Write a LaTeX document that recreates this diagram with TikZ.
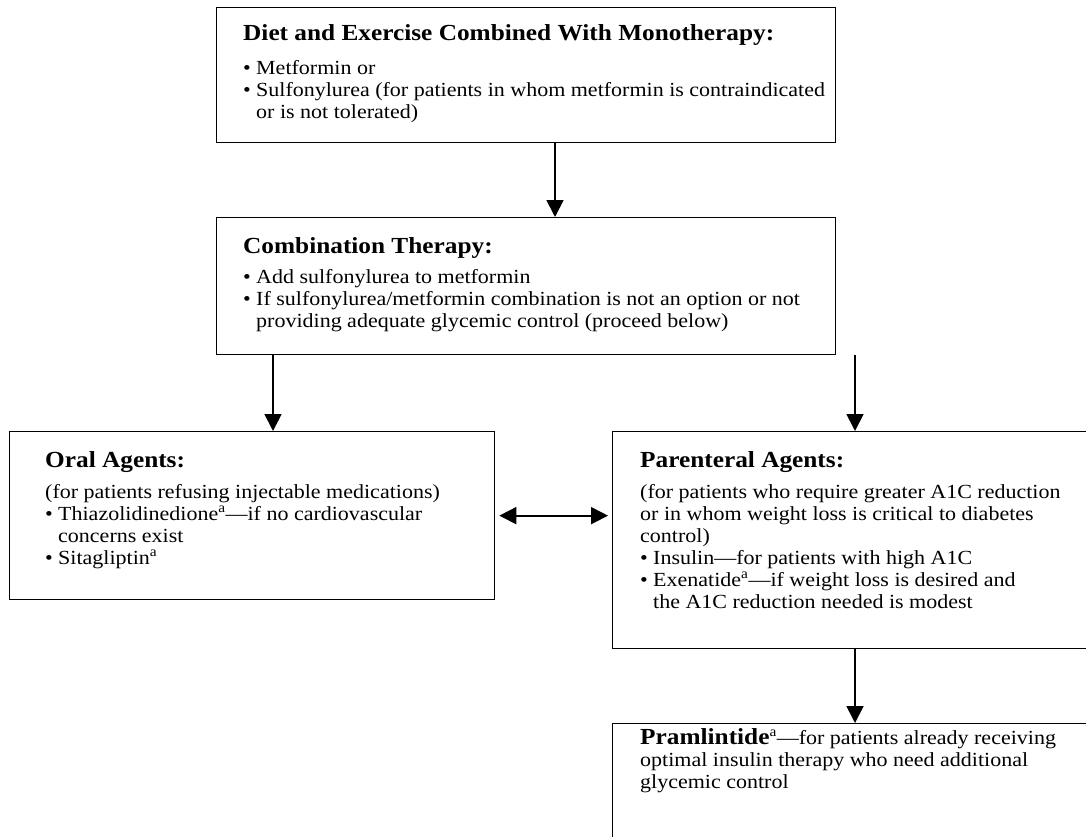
\documentclass[tikz,border=0pt]{standalone}
\usepackage{fontspec}
\setmainfont{Liberation Serif}[FakeStretch=1.1]
\usetikzlibrary{arrows.meta}
\newcommand{\bul}{\makebox[13pt][l]{\textbullet}}
\newcommand{\hng}{\hspace*{13pt}}
\newcommand{\supa}{\textsuperscript{a}}

\begin{document}
\begin{tikzpicture}[x=1pt,y=-1pt,
    box/.style={draw,line width=1.3pt,anchor=north west,inner sep=0pt},
    hd/.style={anchor=base west,inner sep=0pt,font=\fontsize{23}{22}\selectfont\bfseries},
    tx/.style={anchor=north west,inner sep=0pt,align=left,font=\fontsize{20}{22}\selectfont},
    arr/.style={line width=1.8pt,-{Triangle[length=17pt,width=17pt]}},
    arrb/.style={line width=1.8pt,{Triangle[length=17pt,width=17pt]}-{Triangle[length=17pt,width=17pt]},shorten <=4pt,shorten >=4pt}
]
    \useasboundingbox (0,0) rectangle (1086,837);
    \clip (0,0) rectangle (1086,837);
    % Boxes
    \node[box,minimum width=619pt,minimum height=135pt] (diet)  at (216,7)   {};
    \node[box,minimum width=619pt,minimum height=137pt] (combo) at (216,217) {};
    \node[box,minimum width=485pt,minimum height=168pt] (oral)  at (9,431)   {};
    \node[box,minimum width=520pt,minimum height=217pt] (paren) at (612,431) {};
    \node[box,minimum width=520pt,minimum height=200pt] (pram)  at (612,723) {};
    % Texts
    \node[hd] (dietHd) at (243,41) {Diet and Exercise Combined With Monotherapy:};
    \node[tx] (dietTx) at (243,60) {\bul Metformin or\\
        \bul Sulfonylurea (for patients in whom metformin is contraindicated\\
        \hng or is not tolerated)};
    \node[hd] (comboHd) at (243,253) {Combination Therapy:};
    \node[tx] (comboTx) at (243,269) {\bul Add sulfonylurea to metformin\\
        \bul If sulfonylurea/metformin combination is not an option or not\\
        \hng providing adequate glycemic control (proceed below)};
    \node[hd] (oralHd) at (45,467) {Oral Agents:};
    \node[tx] (oralTx) at (45,484) {(for patients refusing injectable medications)\\
        \bul Thiazolidinedione\supa---if no cardiovascular\\
        \hng concerns exist\\
        \bul Sitagliptin\supa};
    \node[hd] (parenHd) at (640,467) {Parenteral Agents:};
    \node[tx] (parenTx) at (640,484) {(for patients who require greater A1C reduction\\
        or in whom weight loss is critical to diabetes\\
        control)\\
        \bul Insulin---for patients with high A1C\\
        \bul Exenatide\supa---if weight loss is desired and\\
        \hng the A1C reduction needed is modest};
    \node[tx] (pramTx) at (640,728) {{\fontsize{23}{22}\selectfont\bfseries Pramlintide}\supa---for patients already receiving\\
        optimal insulin therapy who need additional\\
        glycemic control};
    % Arrows
    \coordinate (a1) at (555,0);
    \coordinate (a2) at (273,0);
    \coordinate (a3) at (855,0);
    \draw[arr] (diet.south -| a1) -- (combo.north -| a1);
    \draw[arr] (combo.south -| a2) -- (oral.north -| a2);
    \draw[arr] (combo.south -| a3) -- (paren.north -| a3);
    \draw[arrb] (oral.east) -- (paren.west |- oral.east);
    \draw[arr] (paren.south -| a3) -- (pram.north -| a3);
\end{tikzpicture}
\end{document}
